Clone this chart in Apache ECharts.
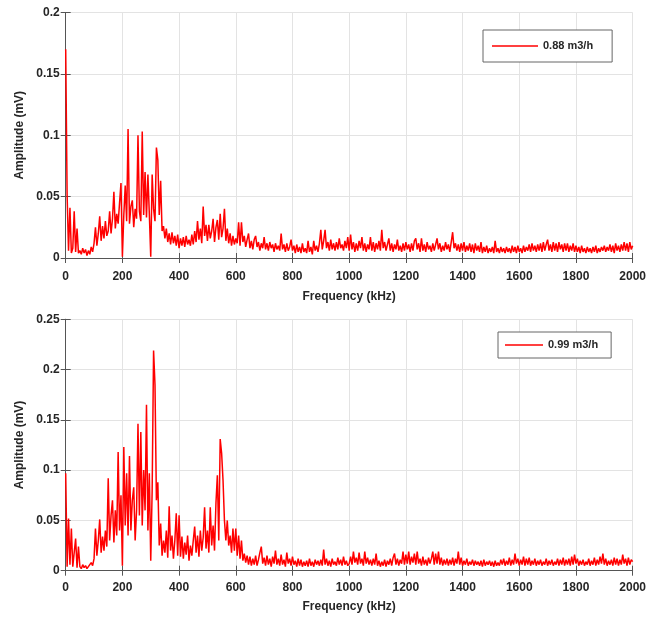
<!DOCTYPE html>
<html>
<head>
<meta charset="utf-8">
<script src="https://cdn.jsdelivr.net/npm/echarts@6/dist/echarts.min.js"></script>
<style>html,body{margin:0;padding:0;background:#fff}#c{width:649px;height:617px}</style>
</head>
<body>
<div id="c"></div>
<script>
// Frequency sampling step (kHz) of the amplitude arrays below
const freqStep = 5;
const seriesNames = ['0.88 m3/h', '0.99 m3/h'];
const xTicks = [0, 200, 400, 600, 800, 1000, 1200, 1400, 1600, 1800, 2000];
const yTicksTop = [0, 0.05, 0.1, 0.15, 0.2];
const yTicksBottom = [0, 0.05, 0.1, 0.15, 0.2, 0.25];

// Amplitude (mV), 0.88 m3/h, every 5 kHz from 0 to 2000 kHz (one row = 50 kHz)
const amp088 = [
0.170,0.051,0.006,0.041,0.004,0.008,0.038,0.005,0.024,0.004,
0.006,0.003,0.008,0.004,0.007,0.002,0.006,0.003,0.009,0.005,
0.012,0.025,0.010,0.020,0.034,0.014,0.026,0.016,0.030,0.018,
0.022,0.038,0.020,0.032,0.054,0.024,0.036,0.028,0.045,0.061,
0.001,0.035,0.059,0.030,0.105,0.028,0.042,0.047,0.025,0.040,
0.032,0.100,0.038,0.030,0.103,0.035,0.070,0.033,0.068,0.036,
0.001,0.068,0.040,0.030,0.090,0.080,0.035,0.063,0.022,0.026,
0.016,0.024,0.013,0.020,0.011,0.021,0.012,0.018,0.010,0.019,
0.008,0.016,0.010,0.017,0.009,0.018,0.011,0.015,0.010,0.019,
0.011,0.022,0.013,0.030,0.015,0.024,0.012,0.042,0.018,0.027,
0.014,0.027,0.016,0.022,0.032,0.013,0.025,0.031,0.015,0.036,
0.017,0.024,0.040,0.014,0.024,0.012,0.020,0.010,0.018,0.011,
0.016,0.012,0.029,0.010,0.029,0.013,0.018,0.009,0.015,0.020,
0.008,0.014,0.007,0.015,0.018,0.009,0.013,0.006,0.012,0.008,
0.017,0.007,0.012,0.006,0.013,0.008,0.011,0.005,0.012,0.007,
0.010,0.006,0.020,0.007,0.011,0.005,0.012,0.006,0.009,0.015,
0.006,0.010,0.004,0.011,0.005,0.009,0.004,0.012,0.005,0.008,
0.004,0.014,0.005,0.009,0.003,0.014,0.006,0.010,0.005,0.012,
0.023,0.007,0.014,0.023,0.008,0.013,0.006,0.015,0.007,0.012,
0.006,0.013,0.007,0.016,0.008,0.011,0.006,0.014,0.008,0.017,
0.006,0.019,0.007,0.013,0.005,0.012,0.006,0.014,0.008,0.017,
0.006,0.012,0.005,0.011,0.007,0.017,0.006,0.013,0.005,0.012,
0.007,0.014,0.006,0.023,0.008,0.013,0.006,0.011,0.016,0.006,
0.012,0.005,0.011,0.007,0.015,0.006,0.010,0.005,0.012,0.006,
0.013,0.007,0.011,0.005,0.012,0.006,0.014,0.016,0.007,0.012,
0.005,0.016,0.006,0.011,0.005,0.013,0.007,0.010,0.005,0.012,
0.006,0.011,0.016,0.007,0.012,0.005,0.010,0.006,0.013,0.007,
0.011,0.005,0.013,0.021,0.008,0.012,0.006,0.011,0.005,0.012,
0.006,0.013,0.005,0.010,0.006,0.012,0.005,0.011,0.004,0.012,
0.006,0.010,0.005,0.013,0.004,0.009,0.005,0.010,0.004,0.008,
0.005,0.009,0.004,0.014,0.005,0.008,0.004,0.009,0.005,0.008,
0.004,0.009,0.005,0.008,0.004,0.010,0.005,0.009,0.004,0.010,
0.005,0.008,0.004,0.010,0.005,0.009,0.006,0.011,0.005,0.012,
0.006,0.010,0.005,0.011,0.006,0.012,0.005,0.013,0.006,0.011,
0.015,0.006,0.011,0.005,0.013,0.006,0.012,0.005,0.013,0.007,
0.011,0.005,0.012,0.006,0.012,0.005,0.010,0.006,0.012,0.005,
0.010,0.005,0.009,0.004,0.010,0.005,0.008,0.004,0.009,0.005,
0.008,0.004,0.009,0.005,0.010,0.004,0.008,0.005,0.009,0.006,
0.010,0.005,0.009,0.006,0.011,0.005,0.010,0.004,0.012,0.006,
0.010,0.005,0.011,0.006,0.013,0.006,0.012,0.005,0.013,0.007,
0.010
];

// Amplitude (mV), 0.99 m3/h, every 5 kHz from 0 to 2000 kHz (one row = 50 kHz)
const amp099 = [
0.097,0.004,0.052,0.006,0.042,0.004,0.005,0.032,0.003,0.024,
0.004,0.002,0.006,0.003,0.005,0.002,0.004,0.003,0.008,0.005,
0.012,0.042,0.015,0.030,0.051,0.018,0.034,0.020,0.040,0.024,
0.092,0.030,0.055,0.070,0.028,0.060,0.035,0.118,0.040,0.075,
0.005,0.123,0.045,0.097,0.035,0.114,0.040,0.070,0.083,0.030,
0.060,0.146,0.055,0.138,0.045,0.100,0.060,0.165,0.040,0.097,
0.010,0.080,0.219,0.185,0.070,0.088,0.025,0.047,0.015,0.030,
0.018,0.040,0.013,0.064,0.020,0.035,0.012,0.030,0.057,0.015,
0.055,0.014,0.034,0.012,0.028,0.016,0.035,0.010,0.025,0.015,
0.030,0.044,0.018,0.035,0.014,0.040,0.020,0.033,0.063,0.022,
0.040,0.018,0.063,0.025,0.045,0.020,0.067,0.095,0.030,0.131,
0.117,0.090,0.050,0.030,0.050,0.025,0.035,0.018,0.042,0.020,
0.042,0.015,0.035,0.012,0.030,0.010,0.017,0.008,0.015,0.006,
0.014,0.005,0.012,0.006,0.015,0.005,0.011,0.018,0.024,0.007,
0.013,0.005,0.015,0.006,0.012,0.004,0.014,0.007,0.020,0.006,
0.012,0.005,0.016,0.006,0.011,0.004,0.018,0.007,0.012,0.005,
0.014,0.006,0.010,0.004,0.012,0.005,0.011,0.004,0.009,0.005,
0.010,0.004,0.012,0.005,0.009,0.004,0.011,0.006,0.010,0.005,
0.011,0.005,0.021,0.006,0.012,0.005,0.010,0.004,0.012,0.006,
0.009,0.005,0.013,0.006,0.011,0.005,0.014,0.006,0.010,0.005,
0.007,0.014,0.006,0.019,0.008,0.013,0.006,0.018,0.007,0.012,
0.005,0.019,0.007,0.013,0.006,0.011,0.005,0.012,0.006,0.017,
0.005,0.010,0.004,0.009,0.005,0.011,0.004,0.010,0.006,0.012,
0.005,0.013,0.017,0.006,0.012,0.005,0.011,0.007,0.019,0.006,
0.016,0.007,0.019,0.006,0.014,0.008,0.017,0.006,0.019,0.007,
0.012,0.005,0.014,0.006,0.011,0.005,0.013,0.007,0.012,0.019,
0.006,0.017,0.007,0.019,0.006,0.013,0.005,0.011,0.006,0.012,
0.005,0.011,0.006,0.013,0.005,0.012,0.007,0.019,0.006,0.013,
0.005,0.010,0.006,0.012,0.005,0.009,0.006,0.011,0.005,0.010,
0.006,0.009,0.005,0.010,0.004,0.011,0.005,0.009,0.006,0.010,
0.005,0.009,0.004,0.010,0.005,0.008,0.005,0.011,0.006,0.012,
0.005,0.010,0.006,0.013,0.005,0.011,0.006,0.017,0.007,0.012,
0.005,0.011,0.006,0.014,0.005,0.012,0.006,0.013,0.005,0.010,
0.006,0.012,0.005,0.010,0.006,0.011,0.005,0.009,0.006,0.012,
0.005,0.010,0.006,0.011,0.005,0.009,0.006,0.012,0.005,0.011,
0.006,0.013,0.005,0.011,0.006,0.012,0.005,0.014,0.006,0.016,
0.007,0.012,0.005,0.010,0.006,0.011,0.005,0.009,0.006,0.012,
0.005,0.010,0.006,0.013,0.005,0.011,0.006,0.014,0.007,0.017,
0.006,0.012,0.005,0.010,0.006,0.011,0.005,0.013,0.006,0.012,
0.005,0.011,0.006,0.016,0.007,0.012,0.005,0.013,0.006,0.011,
0.009
];

const toPairs = arr => arr.map((v, i) => [i * freqStep, v]);

const txt = '#262626';
const boxColor = '#555';
const font = 'Liberation Sans, Arial, sans-serif';
const grids = [
  {left: 65.7, right: 16, top: 12.5, height: 245.5},
  {left: 65.7, right: 16, top: 319.3, height: 251.4}
];
const yTicks = [yTicksTop, yTicksBottom];
const labelMargins = [13, 11];
const nameGaps = [33, 30];

const xAxes = [], yAxes = [], series = [];
grids.forEach((g, k) => {
  const yt = yTicks[k];
  xAxes.push({
    gridIndex: k, type: 'value', min: xTicks[0], max: xTicks[xTicks.length - 1], interval: xTicks[1] - xTicks[0],
    name: 'Frequency (kHz)', nameLocation: 'middle', nameGap: nameGaps[k],
    nameTextStyle: {fontFamily: font, fontWeight: 'bold', fontSize: 12, color: txt},
    axisLine: {show: true, lineStyle: {color: boxColor, width: 1}},
    axisTick: {show: true, inside: true, length: 5, lineStyle: {color: boxColor}},
    axisLabel: {fontFamily: font, fontWeight: 'bold', fontSize: 12, color: txt, margin: labelMargins[k],
      formatter: v => String(v)},
    splitLine: {show: true, lineStyle: {color: '#e3e3e3', width: 1}}
  });
  xAxes.push({
    gridIndex: k, type: 'value', position: 'top', min: xTicks[0], max: xTicks[xTicks.length - 1], interval: xTicks[1] - xTicks[0],
    axisLine: {show: true, lineStyle: {color: boxColor, width: 1}},
    axisTick: {show: true, inside: true, length: 5, lineStyle: {color: boxColor}},
    axisLabel: {show: false}, splitLine: {show: false}
  });
  yAxes.push({
    gridIndex: k, type: 'value', min: yt[0], max: yt[yt.length - 1], interval: yt[1] - yt[0],
    name: 'Amplitude (mV)', nameLocation: 'middle', nameGap: 40,
    nameTextStyle: {fontFamily: font, fontWeight: 'bold', fontSize: 12, color: txt},
    axisLine: {show: true, lineStyle: {color: boxColor, width: 1}},
    axisTick: {show: true, inside: true, length: 5, lineStyle: {color: boxColor}},
    axisLabel: {fontFamily: font, fontWeight: 'bold', fontSize: 12, color: txt, margin: 6,
      formatter: v => String(+v.toFixed(2))},
    splitLine: {show: true, lineStyle: {color: '#e3e3e3', width: 1}}
  });
  yAxes.push({
    gridIndex: k, type: 'value', position: 'right', min: yt[0], max: yt[yt.length - 1], interval: yt[1] - yt[0],
    axisLine: {show: true, lineStyle: {color: boxColor, width: 1}},
    axisTick: {show: true, inside: true, length: 5, lineStyle: {color: boxColor}},
    axisLabel: {show: false}, splitLine: {show: false}
  });
  series.push({
    name: seriesNames[k], type: 'line', xAxisIndex: k * 2, yAxisIndex: k * 2,
    data: toPairs(k === 0 ? amp088 : amp099),
    symbol: 'none', showSymbol: false, sampling: null,
    lineStyle: {color: '#ff0000', width: 1.5}, itemStyle: {color: '#ff0000'}
  });
});

const legends = [
  {
    data: [seriesNames[0]], left: 483, top: 30, orient: 'vertical', icon: 'rect',
    padding: [9, 19, 9, 9], itemWidth: 46, itemHeight: 1.5, itemGap: 0,
    backgroundColor: '#fff', borderColor: '#666', borderWidth: 1,
    textStyle: {fontFamily: font, fontWeight: 'bold', fontSize: 11, color: txt, lineHeight: 14}
  },
  {
    data: [seriesNames[1]], left: 498, top: 332, orient: 'vertical', icon: 'rect',
    padding: [6, 13, 6, 7], itemWidth: 38, itemHeight: 1.5, itemGap: 0,
    backgroundColor: '#fff', borderColor: '#666', borderWidth: 1,
    textStyle: {fontFamily: font, fontWeight: 'bold', fontSize: 11, color: txt, lineHeight: 14}
  }
];

const chart = echarts.init(document.getElementById('c'), null, {renderer: 'canvas'});
chart.setOption({
  animation: false,
  backgroundColor: '#fff',
  grid: grids,
  xAxis: xAxes,
  yAxis: yAxes,
  legend: legends,
  series: series
});
</script>
</body>
</html>
